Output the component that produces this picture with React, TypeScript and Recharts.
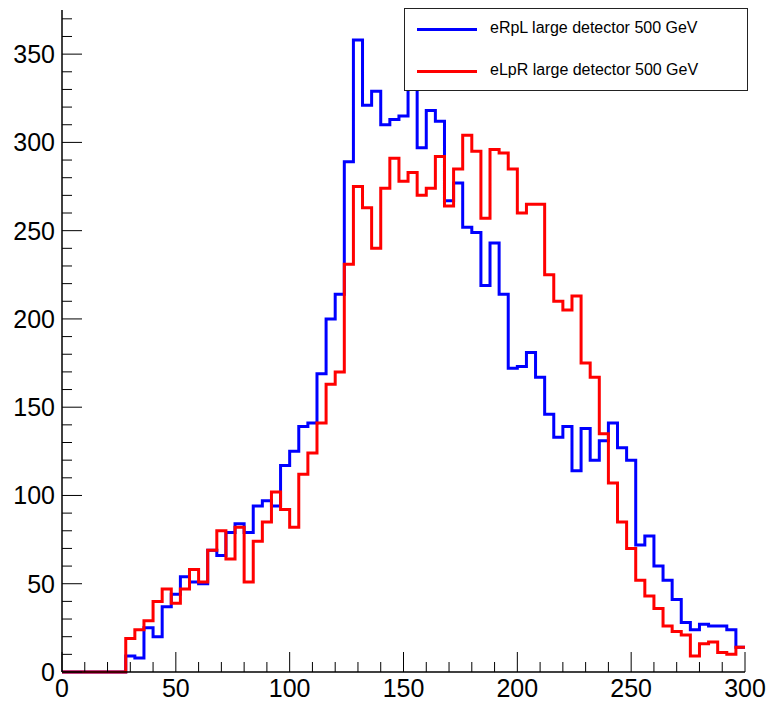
import { Legend, Line, LineChart, XAxis, YAxis } from "recharts";

// histogram: 75 bins of 4 GeV from 0 to 300
const binWidth = 4;

const eRpL = [
  0, 0, 0, 0, 0, 0, 0, 9, 8, 25, 20, 37, 44, 54, 51, 50, 69, 66, 79, 84, 79, 94, 97, 94, 117,
  125, 139, 141, 169, 200, 214, 289, 358, 321, 329, 310, 313, 315, 340, 297, 318, 312, 267, 277,
  252, 249, 219, 243, 214, 172, 173, 181, 167, 146, 133, 139, 114, 138, 120, 131, 141, 127, 120,
  72, 77, 60, 52, 41, 28, 24, 27, 26, 26, 24, 14,
];

const eLpR = [
  0, 0, 0, 0, 0, 0, 0, 19, 24, 29, 40, 47, 39, 47, 58, 51, 69, 80, 64, 82, 51, 74, 85, 102, 92,
  82, 112, 124, 141, 163, 170, 231, 275, 263, 240, 274, 291, 278, 283, 270, 274, 292, 264, 285,
  304, 295, 257, 296, 294, 285, 260, 265, 265, 225, 210, 205, 213, 175, 167, 135, 107, 85, 70,
  52, 43, 36, 26, 23, 21, 9, 16, 17, 11, 10, 14,
];

const xTicks = Array.from({ length: 31 }, (_, i) => i * 10);
const yTicks = Array.from({ length: 38 }, (_, i) => i * 10);

const seriesNames = {
  eRpL: "eRpL large detector 500 GeV",
  eLpR: "eLpR large detector 500 GeV",
};

// step data: one point per bin low edge, plus closing point at the upper edge
const data = eRpL.map((v, i) => ({ x: i * binWidth, eRpL: v, eLpR: eLpR[i] }));
data.push({ x: eRpL.length * binWidth, eRpL: eRpL[eRpL.length - 1], eLpR: eLpR[eLpR.length - 1] });

const font = "'Liberation Sans', Arial, Helvetica, sans-serif";

const XTick = ({ x, y, payload }: any) => {
  const major = payload.value % 50 === 0;
  return (
    <g>
      <line x1={x} x2={x} y1={y} y2={y - (major ? 20 : 10)} stroke="#000" strokeWidth={1} />
      {major && (
        <text x={x} y={y + 25} textAnchor="middle" fontSize={25} fontFamily={font} fill="#000">
          {payload.value}
        </text>
      )}
    </g>
  );
};

const YTick = ({ x, y, payload }: any) => {
  const major = payload.value % 50 === 0;
  return (
    <g>
      <line x1={x} x2={x + (major ? 20 : 10)} y1={y} y2={y} stroke="#000" strokeWidth={1} />
      {major && (
        <text x={x - 7} y={y + 9} textAnchor="end" fontSize={25} fontFamily={font} fill="#000">
          {payload.value}
        </text>
      )}
    </g>
  );
};

const LegendBox = () => (
  <div
    style={{
      width: 344,
      height: 83,
      boxSizing: "border-box",
      border: "1.5px solid #222",
      background: "#fff",
      position: "relative",
      fontFamily: font,
      fontSize: 16,
    }}
  >
    {[
      { name: seriesNames.eRpL, color: "#0000ff", top: 20 },
      { name: seriesNames.eLpR, color: "#ff0000", top: 62 },
    ].map((item) => (
      <div key={item.name}>
        <div
          style={{
            position: "absolute",
            left: 12,
            top: item.top - 1.5,
            width: 60,
            height: 3,
            background: item.color,
          }}
        />
        <div style={{ position: "absolute", left: 85, top: item.top - 10, lineHeight: "18px", color: "#000" }}>
          {item.name}
        </div>
      </div>
    ))}
  </div>
);

export default function App() {
  return (
    <div style={{ position: "absolute", left: 0, top: 0, width: 775, height: 704, background: "#fff" }}>
      <LineChart width={775} height={704} data={data} margin={{ top: 10, right: 30, left: 0, bottom: 0 }}>
        <XAxis
          dataKey="x"
          type="number"
          domain={[0, 300]}
          ticks={xTicks}
          interval={0}
          tickSize={0}
          tickMargin={0}
          tickLine={false}
          tick={<XTick />}
          axisLine={{ stroke: "#000", strokeWidth: 1.5 }}
          height={32}
        />
        <XAxis
          xAxisId="top"
          orientation="top"
          type="number"
          domain={[0, 300]}
          height={0}
          tick={false}
          tickLine={false}
          axisLine={{ stroke: "#000", strokeWidth: 1.5 }}
        />
        <YAxis
          type="number"
          domain={[0, 375]}
          ticks={yTicks}
          interval={0}
          tickSize={0}
          tickMargin={0}
          tickLine={false}
          tick={<YTick />}
          axisLine={{ stroke: "#000", strokeWidth: 1.5 }}
          width={62}
        />
        <YAxis
          yAxisId="right"
          orientation="right"
          type="number"
          domain={[0, 375]}
          width={0}
          tick={false}
          tickLine={false}
          axisLine={{ stroke: "#000", strokeWidth: 1.5 }}
        />
        <Line
          type="stepAfter"
          dataKey="eRpL"
          name={seriesNames.eRpL}
          stroke="#0000ff"
          strokeWidth={3}
          dot={false}
          isAnimationActive={false}
        />
        <Line
          type="stepAfter"
          dataKey="eLpR"
          name={seriesNames.eLpR}
          stroke="#ff0000"
          strokeWidth={3}
          dot={false}
          isAnimationActive={false}
        />
        <Legend
          layout="vertical"
          align="center"
          verticalAlign="middle"
          content={<LegendBox />}
          wrapperStyle={{ left: 404, top: 8, width: 344, height: 83 }}
        />
      </LineChart>
    </div>
  );
}
